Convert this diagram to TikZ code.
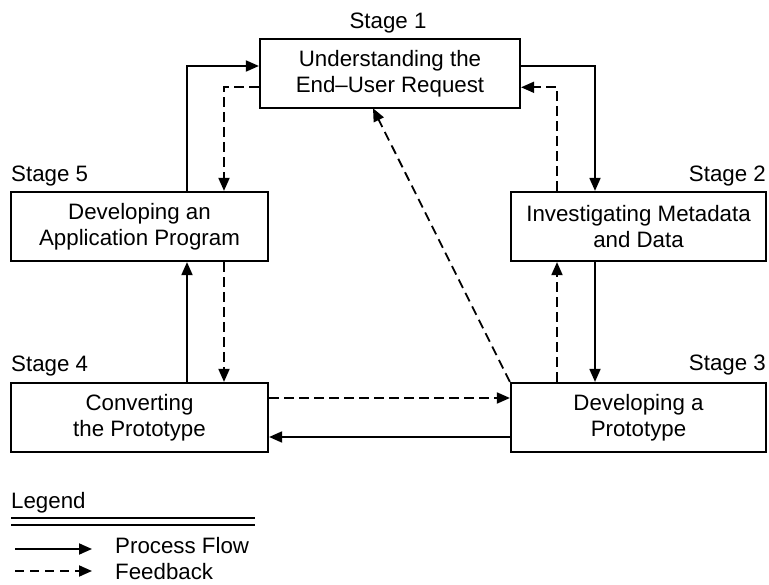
\documentclass[tikz,border=0pt]{standalone}
\usepackage{fontspec}
\setmainfont{Liberation Sans}
\usetikzlibrary{arrows.meta}

\begin{document}
\begin{tikzpicture}[x=1pt,y=-1pt,
  every node/.style={font=\fontsize{22.3}{26}\selectfont},
  stagebox/.style={draw,line width=2.2pt,align=center,inner sep=0pt,
    minimum height=69pt},
  stagelabel/.style={inner sep=0pt},
  conn/.style={line width=1.8pt},
  tip/.style={-{Triangle[length=13pt,width=11pt]}},
  flow/.style={conn,tip},
  feedback/.style={conn,tip,dash pattern=on 9.5pt off 5.5pt},
]
\useasboundingbox (0,0) rectangle (769,585);

% stage boxes
\node[stagebox,minimum width=260pt] (s1) at (390,73.8) {Understanding the\\End–User Request};
\node[stagebox,minimum width=255pt] (s2) at (638.5,226.5) {Investigating Metadata\\and Data};
\node[stagebox,minimum width=255pt] (s3) at (638.5,417.5) {Developing a\\Prototype};
\node[stagebox,minimum width=257pt] (s4) at (139.5,417.5) {Converting\\the Prototype};
\node[stagebox,minimum width=257pt] (s5) at (139.5,226.5) {Developing an\\Application Program};

% stage titles
\node[stagelabel,anchor=base] (t1) at (388,29) {Stage 1};
\node[stagelabel,anchor=base east] (t2) at (766,182) {Stage 2};
\node[stagelabel,anchor=base east] (t3) at (766,371) {Stage 3};
\node[stagelabel,anchor=base west] (t4) at (11,372) {Stage 4};
\node[stagelabel,anchor=base west] (t5) at (11,182) {Stage 5};

% guide positions for the routed connectors
\coordinate (xl1) at (187,0);
\coordinate (xl2) at (224,0);
\coordinate (xr1) at (557,0);
\coordinate (xr2) at (595,0);
\coordinate (yt1) at (0,66);
\coordinate (yt2) at (0,87.3);
\coordinate (yb1) at (0,398);
\coordinate (yb2) at (0,437);
\coordinate (diag) at (373,108.3);

% process flow
\draw[flow] (s1.east |- yt1) -| (s2.north -| xr2);
\draw[flow] (s2.south -| xr2) -- (s3.north -| xr2);
\draw[flow] (s3.west |- yb2) -- (s4.east |- yb2);
\draw[flow] (s4.north -| xl1) -- (s5.south -| xl1);
\draw[flow] (s5.north -| xl1) |- (s1.west |- yt1);

% feedback
\draw[feedback] (s2.north -| xr1) |- (s1.east |- yt2);
\draw[feedback] (s3.north -| xr1) -- (s2.south -| xr1);
\draw[feedback] (s4.east |- yb1) -- (s3.west |- yb1);
\draw[feedback] (s5.south -| xl2) -- (s4.north -| xl2);
\draw[feedback] (s1.west |- yt2) -| (s5.north -| xl2);
\draw[feedback] (s3.north west) -- (diag);

% legend
\node[stagelabel,anchor=base west] (lg) at (11,508) {Legend};
\coordinate (lgA) at (11,518);
\coordinate (lgB) at (255,518);
\coordinate (lgC) at (11,525);
\coordinate (lgD) at (255,525);
\draw[line width=1.6pt] (lgA) -- (lgB);
\draw[line width=1.6pt] (lgC) -- (lgD);
\node[stagelabel,anchor=base west] (lpf) at (115,553) {Process Flow};
\node[stagelabel,anchor=base west] (lfb) at (115,579) {Feedback};
\coordinate (a1) at (15,549);
\coordinate (a2) at (92,549);
\coordinate (b1) at (15,571);
\coordinate (b2) at (92,571);
\draw[flow] (a1) -- (a2);
\draw[feedback,dash pattern=on 9pt off 6pt] (b1) -- (b2);
\end{tikzpicture}
\end{document}
